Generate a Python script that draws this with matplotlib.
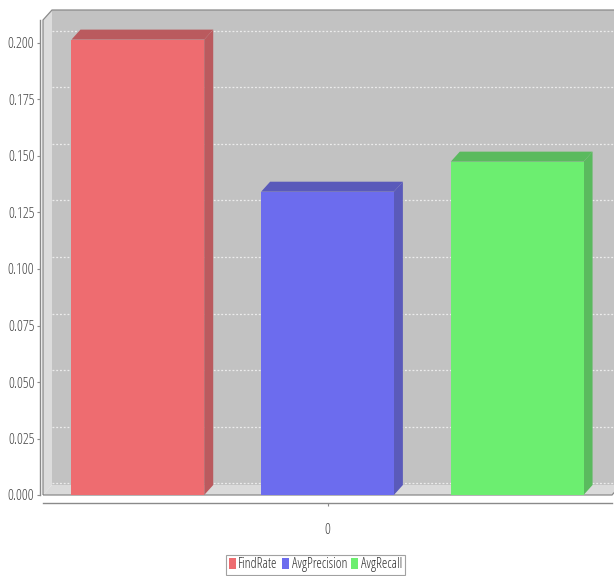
import matplotlib
matplotlib.use('Agg')
import matplotlib.pyplot as plt
from matplotlib.patches import Polygon, Patch
from matplotlib.transforms import IdentityTransform

# ---- data ----
categories = ['0']
series = ['FindRate', 'AvgPrecision', 'AvgRecall']
values = [0.2015, 0.1342, 0.1475]
yticks = [0.000, 0.025, 0.050, 0.075, 0.100, 0.125, 0.150, 0.175, 0.200]
series_offsets = [-1, 0, 1]

# ---- style ----
front_colors = ['#EE6C70', '#6C6CEE', '#6CEE70']
dark_colors = ['#BA5A5E', '#5A5ABA', '#5ABA5E']
plt.rcParams['font.family'] = ['Open Sans', 'DejaVu Sans']
plt.rcParams['font.stretch'] = 'condensed'

W, H = 614, 576
fig = plt.figure(figsize=(W / 100, H / 100), dpi=100)
fig.patch.set_facecolor('white')

L, R, T, B = 43, 612, 20, 495
DX, DY = 9, 10
GDY = 12
ax = fig.add_axes([L / W, (H - B) / H, (R - L) / W, (B - T) / H])
ax.set_xlim(-1.5, 1.5)
ppu = (495 - 43) / 0.2
ax.set_ylim(0, (B - T) / ppu)
ax.patch.set_visible(False)

ID = IdentityTransform()


def disp(x, y):
    return ax.transData.transform((x, y))


xl, yb = disp(-1.5, 0)
xr, yt = disp(1.5, ax.get_ylim()[1])

back = Polygon([(xl + DX, yb + DY), (xr + DX, yb + DY), (xr + DX, yt + DY), (xl + DX, yt + DY)],
               closed=True, facecolor='#C2C2C2', edgecolor='none', transform=ID,
               clip_on=False, zorder=0.1)
ax.add_patch(back)

for v in yticks:
    yy = disp(0, v)[1] + GDY
    ax.plot([xl + DX, xr + DX], [yy, yy], transform=ID, color='white', lw=0.9,
            ls=(0, (1.5, 1.5)), alpha=0.7, clip_on=False, zorder=0.2)

leftwall = Polygon([(xl, yb), (xl + DX, yb + DY), (xl + DX, yt + DY), (xl, yt)], closed=True,
                   facecolor='#DCDCDC', edgecolor='none', transform=ID, clip_on=False, zorder=0.3)
floor = Polygon([(xl, yb), (xr, yb), (xr + DX, yb + DY), (xl + DX, yb + DY)], closed=True,
                facecolor='#DADADA', edgecolor='none', transform=ID, clip_on=False, zorder=0.3)
ax.add_patch(leftwall)
ax.add_patch(floor)

outline = Polygon([(xl, yb), (xl, yt), (xl + DX, yt + DY), (xr + DX, yt + DY),
                   (xr + DX, yb + DY), (xr, yb)], closed=True, facecolor='none',
                  edgecolor='#8A8A8A', lw=0.9, transform=ID, clip_on=False, zorder=0.4)
ax.add_patch(outline)

width = 0.70
ax.bar(series_offsets, values, width=width, color=front_colors, edgecolor='none', zorder=5)
for xi, v, dc in zip(series_offsets, values, dark_colors):
    x0, y0 = disp(xi - width / 2, 0)
    x1, y1 = disp(xi + width / 2, v)
    side = Polygon([(x1, y0), (x1, y1), (x1 + DX, y1 + DY), (x1 + DX, y0 + DY)], closed=True,
                   facecolor=dc, edgecolor='none', transform=ID, clip_on=False, zorder=4)
    top = Polygon([(x0, y1), (x1, y1), (x1 + DX, y1 + DY), (x0 + DX, y1 + DY)], closed=True,
                  facecolor=dc, edgecolor='none', transform=ID, clip_on=False, zorder=4)
    ax.add_patch(side)
    ax.add_patch(top)

for s in ['top', 'right']:
    ax.spines[s].set_visible(False)
ax.spines['left'].set_position(('outward', 2.2))
ax.spines['bottom'].set_position(('outward', 5.8))
for s in ['left', 'bottom']:
    ax.spines[s].set_color('#8A8A8A')
    ax.spines[s].set_linewidth(1.0)
ax.set_yticks(yticks)
ax.set_yticklabels(['%.3f' % v for v in yticks])
ax.set_xticks([0])
ax.set_xticklabels(categories)
ax.tick_params(axis='y', length=2, width=0.8, color='#8A8A8A', labelcolor='#444444',
               labelsize=10.5, pad=2)
ax.tick_params(axis='x', length=2, width=0.8, color='#8A8A8A', labelcolor='#444444',
               labelsize=10.5, pad=12)

handles = [Patch(facecolor=c, edgecolor='none', label=s) for c, s in zip(front_colors, series)]
leg = fig.legend(handles=handles, loc='center', bbox_to_anchor=(315.5 / W, (H - 565) / H),
                 ncol=3, frameon=True, fancybox=False, fontsize=10, handlelength=0.5,
                 handleheight=0.8, handletextpad=0.2, columnspacing=0.3, borderpad=0.2,
                 borderaxespad=0)
leg.get_frame().set_edgecolor('#8A8A8A')
leg.get_frame().set_linewidth(0.8)
for t in leg.get_texts():
    t.set_color('#333333')

fig.savefig('out.png', dpi=100)
